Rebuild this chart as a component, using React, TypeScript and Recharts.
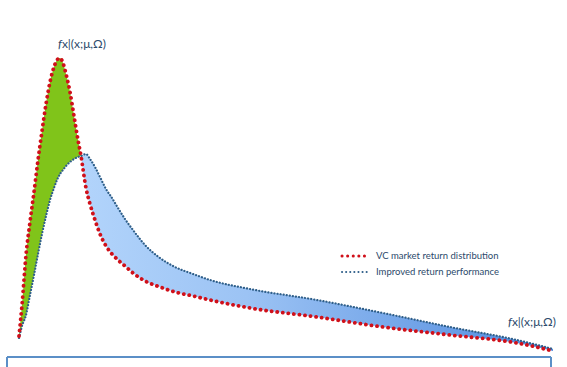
import { ComposedChart, Area, Line, XAxis, YAxis, ReferenceLine, ReferenceDot } from 'recharts';

// x positions along the return axis
const xs = [19, 22, 26, 30, 34, 38, 42, 46, 50, 54, 57, 60, 63, 66, 70, 74, 78, 81, 86, 90, 95, 100, 106, 112, 118, 125, 133, 145, 160, 175, 193, 210, 250, 317, 383, 450, 517, 553];
// VC market return distribution
const market = [24, 55, 105, 138, 168, 200, 229, 256, 278, 293, 300, 302, 297, 286, 268, 244, 220, 204, 172, 156, 140, 126, 114, 106, 100, 94, 87, 79, 73, 68, 64, 60, 52, 43, 33, 25, 17, 9];
// Improved return performance
const improved = [22, 34, 45, 65, 85, 106, 126, 144, 160, 172, 180, 186, 190, 194, 198, 201, 203, 204, 206, 201, 193, 183, 171, 162, 152, 141, 130, 115, 102, 93, 86, 80, 71, 60, 47, 33, 20, 11];

const seriesNames = ['VC market return distribution', 'Improved return performance'];
const curveLabel = 'x|(x;μ,Ω)';

const data = xs.map((x, i) => ({
    x,
    market: market[i],
    improved: improved[i],
    green: market[i] >= improved[i] ? [improved[i], market[i]] : null,
    blue: improved[i] >= market[i] ? [market[i], improved[i]] : null,
}));

const RED = '#d0101a';
const BLUE = '#2f5f8a';
const TEXT = '#2c4a6b';

const FnLabel = ({ viewBox }: any) => (
    <text x={viewBox.x} y={viewBox.y} textAnchor="middle" fontSize={12} fill={TEXT} fontFamily="Lato, sans-serif">
        <tspan fontStyle="italic">f</tspan>
        {curveLabel}
    </text>
);

const LegendBox = () => (
    <div style={{ position: 'absolute', left: 340, top: 248, fontFamily: 'Lato, sans-serif', fontSize: 9.5, color: TEXT, lineHeight: '16px' }}>
        {seriesNames.map((n, i) => (
            <div key={n} style={{ display: 'flex', alignItems: 'center' }}>
                <svg width={30} height={8}>
                    <line x1={2} y1={4} x2={28} y2={4} stroke={i === 0 ? RED : BLUE} strokeWidth={i === 0 ? 3 : 2}
                        strokeDasharray={i === 0 ? '0.1 5.5' : '0.1 4'} strokeLinecap="round" />
                </svg>
                <span style={{ marginLeft: 6 }}>{n}</span>
            </div>
        ))}
    </div>
);

export default function App() {
    return (
        <div style={{ position: 'relative', width: 567, height: 367 }}>
            <style>{'body{margin:0}'}</style>
            <ComposedChart width={567} height={367} data={data} margin={{ top: 0, right: 14, left: 19, bottom: 7 }}>
                <defs>
                    <linearGradient id="blueFill" x1="0" y1="0" x2="1" y2="0">
                        <stop offset="0%" stopColor="#b2d4fb" />
                        <stop offset="35%" stopColor="#9cc3f4" />
                        <stop offset="100%" stopColor="#4f8ade" />
                    </linearGradient>
                </defs>
                <XAxis type="number" dataKey="x" domain={[19, 553]} hide />
                <YAxis type="number" domain={[0, 360]} hide />
                <Area type="monotone" dataKey="green" fill="#80c41a" fillOpacity={1} stroke="none" isAnimationActive={false} />
                <Area type="monotone" dataKey="blue" fill="url(#blueFill)" fillOpacity={1} stroke="none" isAnimationActive={false} />
                <Line type="monotone" dataKey="improved" stroke={BLUE} strokeWidth={2.2} strokeDasharray="0.1 3" strokeLinecap="round" dot={false} isAnimationActive={false} />
                <Line type="monotone" dataKey="market" stroke={RED} strokeWidth={3.8} strokeDasharray="0.1 5.5" strokeLinecap="round" dot={false} isAnimationActive={false} />
                <ReferenceDot x={82} y={312} r={0} stroke="none" fill="none" label={<FnLabel />} ifOverflow="visible" />
                <ReferenceDot x={532} y={34} r={0} stroke="none" fill="none" label={<FnLabel />} ifOverflow="visible" />
                <ReferenceLine segment={[{ x: 7, y: 3 }, { x: 551, y: 3 }]} stroke="#5b8fc7" strokeWidth={2} ifOverflow="visible" />
                <ReferenceLine segment={[{ x: 7, y: 3 }, { x: 7, y: -8 }]} stroke="#5b8fc7" strokeWidth={2} ifOverflow="visible" />
                <ReferenceLine segment={[{ x: 551, y: 3 }, { x: 551, y: -8 }]} stroke="#5b8fc7" strokeWidth={2} ifOverflow="visible" />
            </ComposedChart>
            <LegendBox />
        </div>
    );
}
